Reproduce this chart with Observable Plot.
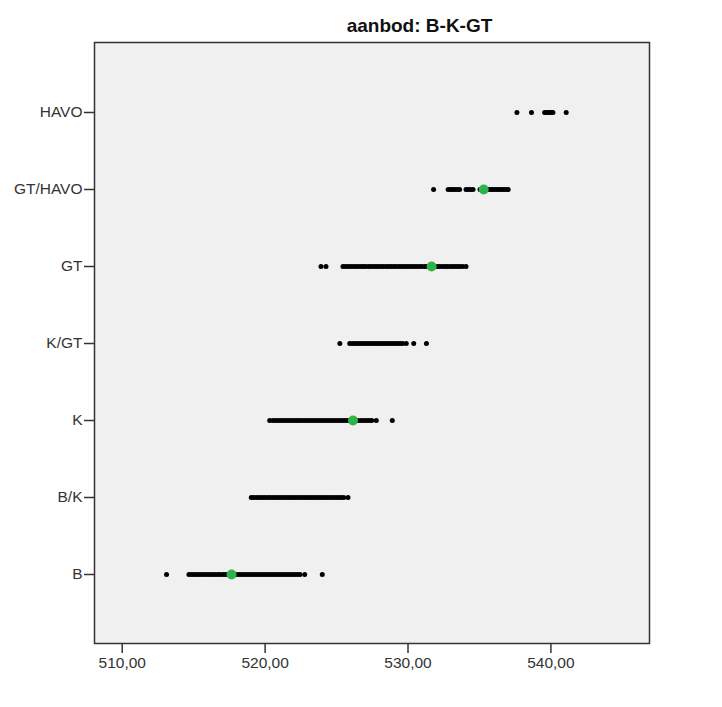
<!DOCTYPE html>
<html>
<head>
<meta charset="utf-8">
<script src="https://cdn.jsdelivr.net/npm/d3@7"></script>
<script src="https://cdn.jsdelivr.net/npm/@observablehq/plot@0.6"></script>
<style>
  html, body { margin: 0; padding: 0; background: white; }
  #chart svg { display: block; }
</style>
</head>
<body>
<div id="chart"></div>
<script>
const title = "aanbod: B-K-GT";
const categories = ["HAVO", "GT/HAVO", "GT", "K/GT", "K", "B/K", "B"];
const xTicks = [510, 520, 530, 540];

const havo = [537.62, 538.64, 539.56, 539.71, 539.85, 539.97, 540.08, 540.14, 541.07];
const gtHavo = [531.79, 532.81, 532.97, 533.12, 533.28, 533.45, 533.61, 534.06, 534.21, 534.38, 534.55,
  535.04, 535.18, 535.33, 535.47, 535.62, 535.79, 535.93, 536.08, 536.24, 536.39, 536.55, 536.71, 536.86, 537.01];
const gt = [523.91, 524.26, 525.45, 525.63, 525.81, 525.98, 526.17, 526.34, 526.52, 526.71, 526.88, 527.05,
  527.24, 527.41, 527.60, 527.77, 527.95, 528.13, 528.30, 528.49, 528.66, 528.84, 529.02, 529.19, 529.38,
  529.55, 529.73, 529.91, 530.08, 530.27, 530.44, 530.62, 530.80, 530.97, 531.16, 531.33, 531.51, 531.69,
  531.86, 532.05, 532.22, 532.40, 532.58, 532.75, 532.94, 533.11, 533.29, 533.47, 533.64, 533.83, 534.06];
const kGt = [525.23, 525.92, 526.10, 526.27, 526.45, 526.63, 526.80, 526.98, 527.16, 527.33, 527.51, 527.69,
  527.86, 528.04, 528.22, 528.39, 528.57, 528.75, 528.92, 529.10, 529.28, 529.45, 529.63, 529.88, 530.40, 531.29];
const k = [520.32, 520.55, 520.74, 520.93, 521.12, 521.30, 521.49, 521.68, 521.86, 522.05, 522.24, 522.42,
  522.61, 522.80, 522.98, 523.17, 523.36, 523.54, 523.73, 523.92, 524.10, 524.29, 524.48, 524.66, 524.85,
  525.04, 525.22, 525.41, 525.60, 525.78, 525.97, 526.16, 526.34, 526.53, 526.72, 526.90, 527.09, 527.28,
  527.46, 527.78, 528.90];
const bK = [519.03, 519.21, 519.40, 519.58, 519.77, 519.95, 520.14, 520.32, 520.51, 520.69, 520.88, 521.06,
  521.25, 521.43, 521.62, 521.80, 521.99, 522.17, 522.36, 522.54, 522.73, 522.91, 523.10, 523.28, 523.47,
  523.65, 523.84, 524.02, 524.21, 524.39, 524.58, 524.76, 524.95, 525.13, 525.32, 525.50, 525.80];
const b = [513.10, 514.67, 514.86, 515.04, 515.23, 515.41, 515.60, 515.78, 515.97, 516.15, 516.34, 516.52,
  516.71, 516.89, 517.08, 517.26, 517.45, 517.63, 517.82, 518.00, 518.19, 518.37, 518.56, 518.74, 518.93,
  519.11, 519.30, 519.48, 519.67, 519.85, 520.04, 520.22, 520.41, 520.59, 520.78, 520.96, 521.15, 521.33,
  521.52, 521.70, 521.89, 522.07, 522.26, 522.44, 522.77, 524.00];

const meanCategories = ["GT/HAVO", "GT", "K", "B"];
const meanValues = [535.30, 531.65, 526.15, 517.65];

const series = {"HAVO": havo, "GT/HAVO": gtHavo, "GT": gt, "K/GT": kGt, "K": k, "B/K": bK, "B": b};
const points = categories.flatMap(c => series[c].map(v => ({cat: c, value: v})));
const means = meanCategories.map((c, i) => ({cat: c, value: meanValues[i]}));

const chart = Plot.plot({
  width: 722,
  height: 707,
  marginLeft: 94,
  marginRight: 73,
  marginTop: 42,
  marginBottom: 64,
  style: {fontFamily: "'Liberation Sans', Arial, sans-serif", fontSize: "15.5px", background: "white", color: "#333"},
  x: {domain: [508.06, 546.9], label: null},
  y: {type: "point", domain: categories, padding: 0.9, label: null},
  marks: [
    Plot.frame({fill: "#f0f0f0"}),
    Plot.dot(points, {x: "value", y: "cat", r: 2.5, fill: "black", stroke: null}),
    Plot.dot(means, {x: "value", y: "cat", r: 5, fill: "#2db34a", stroke: null}),
    Plot.frame({stroke: "#333", strokeWidth: 1.5}),
    Plot.axisX({ticks: xTicks, tickSize: 10, tickPadding: 3, stroke: "#333", strokeWidth: 1.5,
      tickFormat: d => d.toFixed(2).replace(".", ","), label: null}),
    Plot.axisY({tickSize: 10, tickPadding: 2, stroke: "#333", strokeWidth: 1.5, label: null}),
    Plot.text([title], {frameAnchor: "top", dx: 47.5, dy: -11, lineAnchor: "bottom",
      fontWeight: "bold", fontSize: 19, fill: "#111"})
  ]
});
document.getElementById("chart").appendChild(chart);
</script>
</body>
</html>
